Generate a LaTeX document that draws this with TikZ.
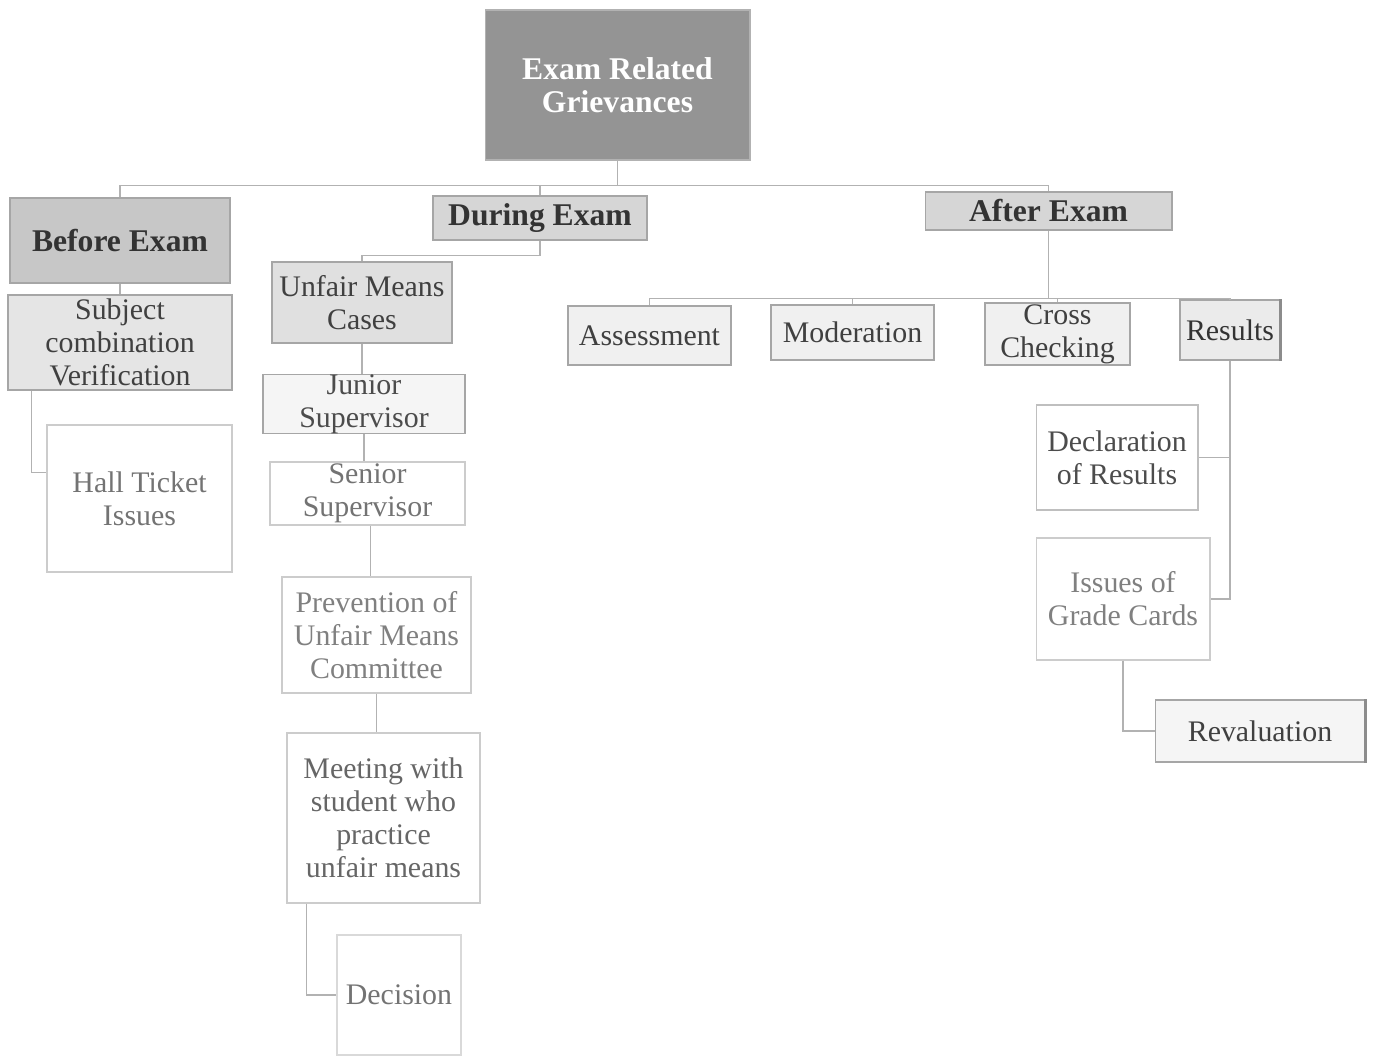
\documentclass[tikz,border=0pt]{standalone}
\usepackage{fontspec}
\setmainfont{Liberation Serif}
\begin{document}
\begin{tikzpicture}[x=0.02cm,y=-0.02cm,
    box/.style={draw=black!35,line width=0.6pt,inner sep=0pt,align=center,text=black!75,
      font=\fontsize{17}{18.7}\selectfont},
    head/.style={box,font=\fontsize{18}{18.7}\selectfont\bfseries,text=black!80},
    link/.style={draw=black!30,line width=1.1pt}]
  \useasboundingbox (0,0) rectangle (1376,1057);
  \node[head,fill=black!42,draw=black!30,text=white,minimum width=5.3cm,minimum height=3cm] (root) at (617.5,85) {Exam Related\\Grievances};
  \node[head,fill=black!22,minimum width=4.4cm,minimum height=1.7cm] (before) at (120,240.5) {Before Exam};
  \node[head,fill=black!16,minimum width=4.28cm,minimum height=0.88cm] (during) at (540,218) {During Exam};
  \node[head,fill=black!16,minimum width=4.94cm,minimum height=0.76cm] (after) at (1048.5,211) {After Exam};
  \node[box,fill=black!10,minimum width=4.48cm,minimum height=1.9cm] (subject) at (120,342.5) {Subject\\combination\\Verification};
  \node[box,text=black!55,draw=black!20,minimum width=3.7cm,minimum height=2.94cm] (hall) at (139.5,498.5) {Hall Ticket\\Issues};
  \node[box,fill=black!12,minimum width=3.6cm,minimum height=1.62cm] (unfair) at (362,302.5) {Unfair Means\\Cases};
  \node[box,fill=black!4,text=black!70,minimum width=4.04cm,minimum height=1.16cm] (junior) at (364,404) {Junior\\Supervisor};
  \node[box,text=black!55,draw=black!20,minimum width=3.9cm,minimum height=1.26cm] (senior) at (367.5,493.5) {Senior\\Supervisor};
  \node[box,text=black!50,draw=black!20,minimum width=3.78cm,minimum height=2.32cm] (prevent) at (376.5,635) {Prevention of\\Unfair Means\\Committee};
  \node[box,text=black!60,draw=black!20,minimum width=3.86cm,minimum height=3.4cm] (meeting) at (383.5,818) {Meeting with\\student who\\practice\\unfair means};
  \node[box,text=black!55,draw=black!15,minimum width=2.48cm,minimum height=2.4cm] (decision) at (399,995) {Decision};
  \node[box,fill=black!6,minimum width=3.26cm,minimum height=1.18cm] (assess) at (649.5,335.5) {Assessment};
  \node[box,fill=black!6,minimum width=3.26cm,minimum height=1.1cm] (moder) at (852.5,332.5) {Moderation};
  \node[box,fill=black!6,minimum width=2.9cm,minimum height=1.24cm] (cross) at (1057.5,334) {Cross\\Checking};
  \node[box,fill=black!8,text=black!80,minimum width=2cm,minimum height=1.2cm] (results) at (1230,330) {Results};
  \node[box,text=black!70,draw=black!25,minimum width=3.24cm,minimum height=2.1cm] (declare) at (1117,457.5) {Declaration\\of Results};
  \node[box,text=black!50,draw=black!20,minimum width=3.48cm,minimum height=2.44cm] (grade) at (1123,599) {Issues of\\Grade Cards};
  \node[box,fill=black!4,text=black!75,minimum width=4.2cm,minimum height=1.24cm] (reval) at (1260,731) {Revaluation};
  \draw[black!45,line width=1.5pt] (results.north east) -- (results.south east);
  \draw[black!45,line width=1.5pt] (reval.north east) -- (reval.south east);
  \draw[link] (root.south) -- ++(0,25) -| (before.north);
  \draw[link] (root.south) -- ++(0,25) -| (during.north);
  \draw[link] (root.south) -- ++(0,25) -| (after.north);
  \draw[link] (before.south) -- (subject.north);
  \draw[link] ([xshift=0.48cm]subject.south west) |- ([yshift=0.52cm]hall.west);
  \draw[link] (during.south) -- ++(0,15) -| (unfair.north);
  \draw[link] (unfair.south) -- (unfair.south |- junior.north);
  \draw[link] (junior.south) -- (junior.south |- senior.north);
  \draw[link] ([xshift=0.06cm]senior.south) -- ([xshift=0.06cm]senior.south |- prevent.north);
  \draw[link] (prevent.south) -- (prevent.south |- meeting.north);
  \draw[link] ([xshift=0.4cm]meeting.south west) |- (decision.west);
  \draw[link] (after.south) -- ++(0,68) -| (assess.north);
  \draw[link] (after.south) -- ++(0,68) -| (moder.north);
  \draw[link] (after.south) -- ++(0,68) -| (cross.north);
  \draw[link] (after.south) -- ++(0,68) -| (results.north);
  \draw[link] (results.south) |- (declare.east);
  \draw[link] (results.south) |- (grade.east);
  \draw[link] (grade.south) |- (reval.west);
\end{tikzpicture}
\end{document}
